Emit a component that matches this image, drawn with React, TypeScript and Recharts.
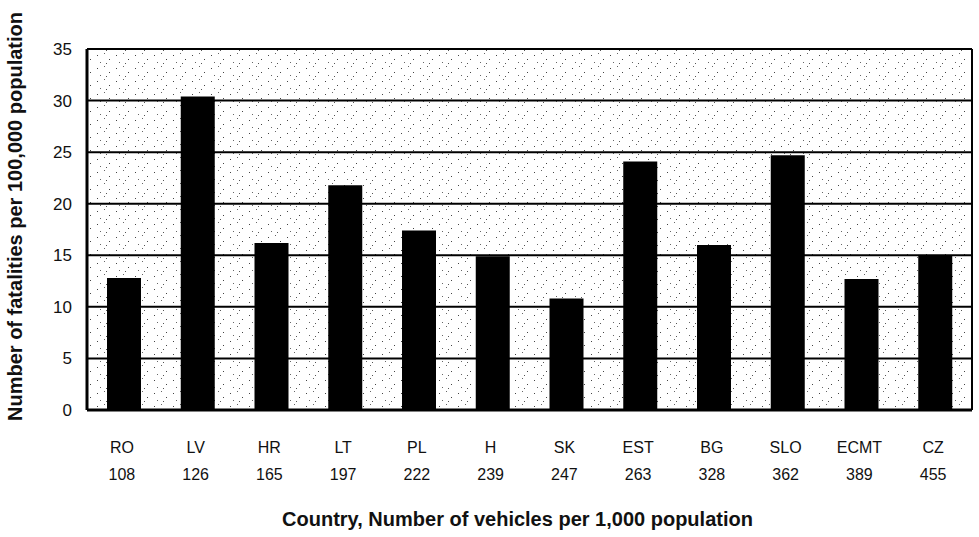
import { Bar, BarChart, CartesianGrid, Label, XAxis, YAxis } from 'recharts';

const countries = ['RO', 'LV', 'HR', 'LT', 'PL', 'H', 'SK', 'EST', 'BG', 'SLO', 'ECMT', 'CZ'];
const vehiclesPer1000 = [108, 126, 165, 197, 222, 239, 247, 263, 328, 362, 389, 455];
const fatalitiesPer100k = [12.8, 30.4, 16.2, 21.8, 17.4, 14.9, 10.8, 24.1, 16.0, 24.7, 12.7, 15.0];
const yTicks = [0, 5, 10, 15, 20, 25, 30, 35];

const data = countries.map((country, i) => ({
  country,
  vehicles: vehiclesPer1000[i],
  fatalities: fatalitiesPer100k[i],
}));

const FONT = '"Liberation Sans", Arial, sans-serif';

const CountryTick = (props: any) => {
  const { x, y, payload } = props;
  const vehicles = vehiclesPer1000[countries.indexOf(payload.value)];
  return (
    <g>
      <text x={x - 2} y={y + 43} textAnchor="middle" fontFamily={FONT} fontSize={16} fill="#111">
        {payload.value}
      </text>
      <text x={x - 2} y={y + 70} textAnchor="middle" fontFamily={FONT} fontSize={16} fill="#111">
        {vehicles}
      </text>
    </g>
  );
};

export default function App() {
  return (
    <div style={{ position: 'absolute', left: 0, top: 0, background: '#fff' }}>
      <BarChart
        width={979}
        height={537}
        data={data}
        margin={{ top: 49, right: 7, left: 0, bottom: 0 }}
      >
        <defs>
          <pattern id="stipple" width="19" height="13" patternUnits="userSpaceOnUse">
            <rect width="19" height="13" fill="#fff" />
            <rect x="2" y="3" width="1" height="1" fill="#444" />
            <rect x="9" y="1" width="1" height="1" fill="#666" />
            <rect x="14" y="7" width="1" height="1" fill="#444" />
            <rect x="5" y="10" width="1" height="1" fill="#666" />
            <rect x="11" y="11" width="1" height="1" fill="#555" />
          </pattern>
        </defs>
        <CartesianGrid
          stroke="#000"
          strokeWidth={2}
          fill="url(#stipple)"
          fillOpacity={1}
          verticalCoordinatesGenerator={({ offset }: any) => [
            offset.left,
            offset.left + offset.width,
          ]}
        />
        <XAxis
          dataKey="country"
          height={127}
          tickSize={0}
          tickMargin={0}
          tick={<CountryTick />}
          axisLine={{ stroke: '#000', strokeWidth: 3 }}
          interval={0}
        >
          <Label
            content={({ viewBox }: any) => (
              <text
                x={viewBox.x + viewBox.width / 2 - 12}
                y={viewBox.y + 116}
                textAnchor="middle"
                fontFamily={FONT}
                fontSize={20}
                fontWeight="bold"
                fill="#111"
              >
                Country, Number of vehicles per 1,000 population
              </text>
            )}
          />
        </XAxis>
        <YAxis
          width={87}
          domain={[0, 35]}
          ticks={yTicks}
          interval={0}
          tickLine={false}
          tickSize={0}
          tickMargin={15}
          axisLine={{ stroke: '#000', strokeWidth: 3 }}
          tick={{ fontFamily: FONT, fontSize: 17, fill: '#111' }}
        >
          <Label
            content={({ viewBox }: any) => {
              const cx = viewBox.x + 22;
              const cy = viewBox.y + viewBox.height / 2 - 13;
              return (
                <text
                  x={cx}
                  y={cy}
                  transform={`rotate(-90, ${cx}, ${cy})`}
                  textAnchor="middle"
                  fontFamily={FONT}
                  fontSize={20}
                  fontWeight="bold"
                  fill="#111"
                >
                  Number of fatalities per 100,000 population
                </text>
              );
            }}
          />
        </YAxis>
        <Bar dataKey="fatalities" fill="#000" barSize={34} isAnimationActive={false} />
      </BarChart>
    </div>
  );
}
